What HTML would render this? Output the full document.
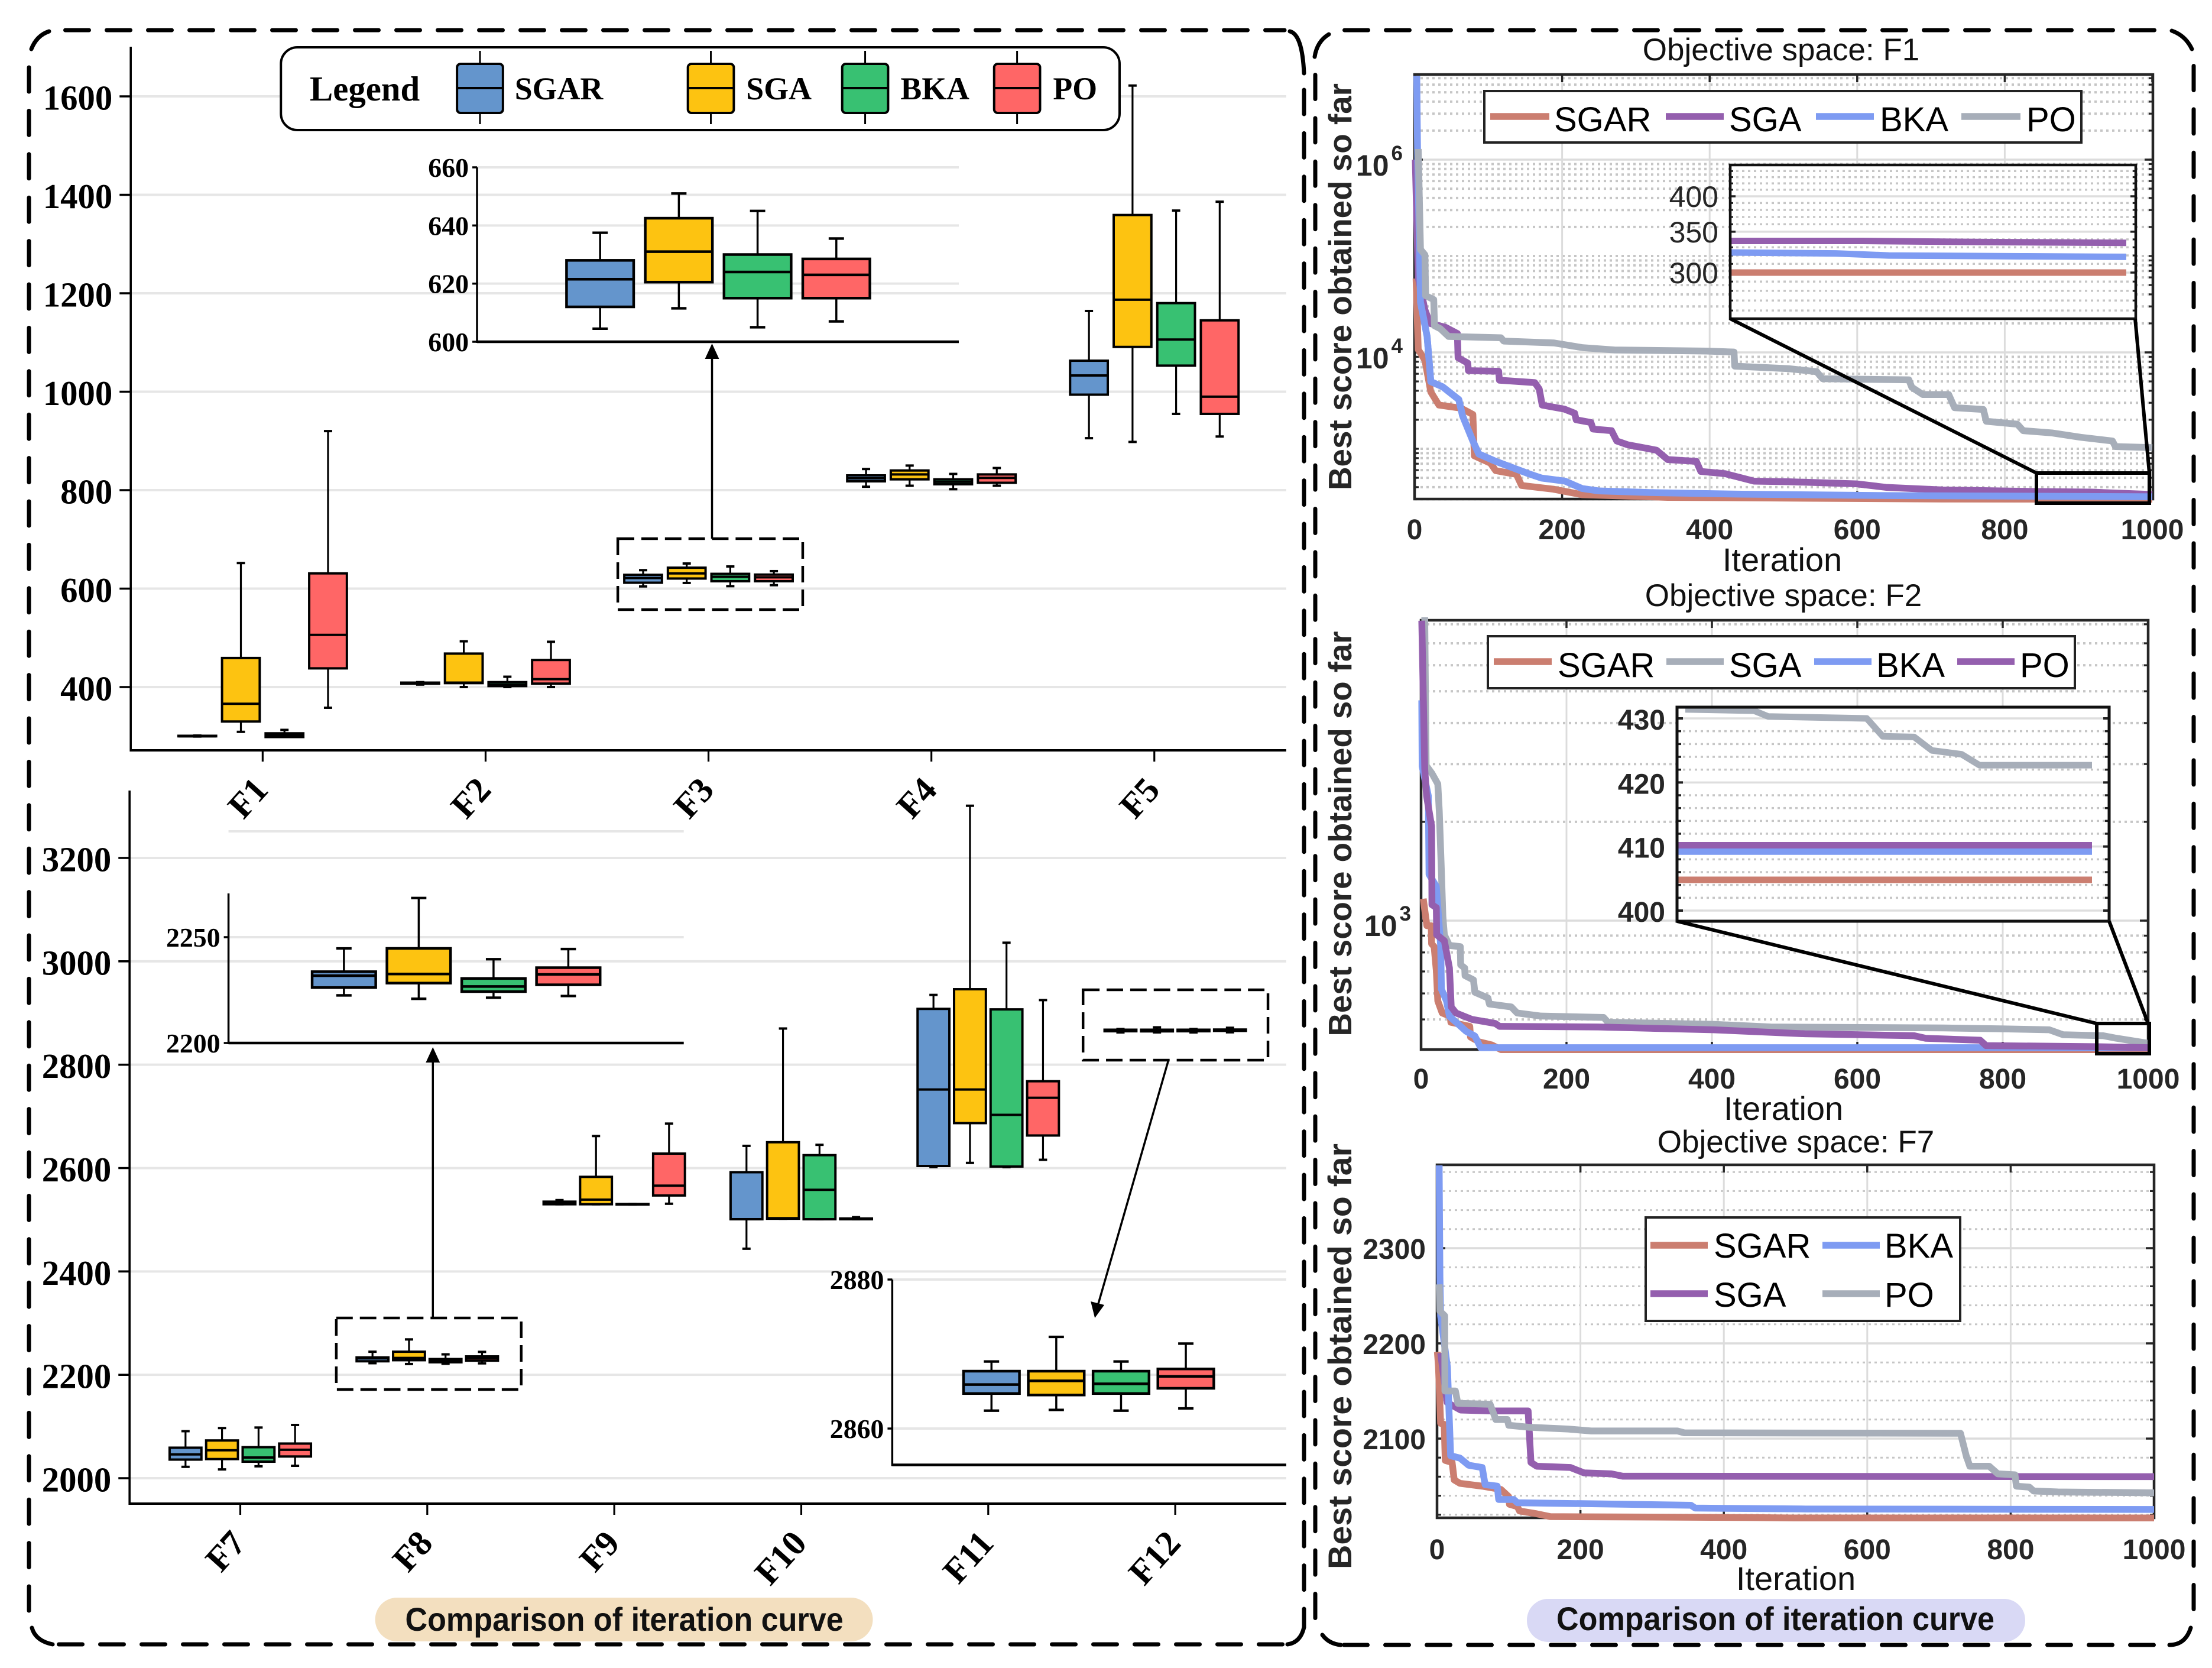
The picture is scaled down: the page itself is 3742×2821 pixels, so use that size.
<!DOCTYPE html>
<html lang="en">
<head>
<meta charset="utf-8">
<title>Comparison of iteration curve</title>
<style>
html,body{margin:0;padding:0;background:#fff;}
svg{display:block;}
.serif{font-family:"Liberation Serif",serif;font-weight:bold;fill:#000;}
.sans{font-family:"Liberation Sans",sans-serif;fill:#111;}
.dash{fill:none;stroke:#000;stroke-width:7;stroke-linecap:round;}
</style>
</head>
<body>
<svg id="root" xmlns="http://www.w3.org/2000/svg" width="3742" height="2821" viewBox="0 0 3742 2821">
  <defs>
    <clipPath id="clip-f1"><rect x="2385" y="124" width="1262" height="730"/></clipPath>
    <clipPath id="clip-f2"><rect x="2396" y="1042" width="1244" height="744"/></clipPath>
    <clipPath id="clip-f7"><rect x="2423" y="1968" width="1227" height="608"/></clipPath>
  </defs>
  <rect x="0" y="0" width="3742" height="2821" fill="#ffffff"/>

  <g transform="scale(0.9963 1)">
    <g id="top-box-chart"></g>
    <g id="bottom-box-chart"></g>

    <!-- box legend -->
    <g>
      <rect x="477" y="80" width="1424" height="140" rx="28" fill="#fff" stroke="#000" stroke-width="4"/>
      <text class="serif" x="526" y="170" font-size="59">Legend</text>
      <g>
        <line x1="815" x2="815" y1="86" y2="210" stroke="#000" stroke-width="3"/>
        <rect x="776" y="108" width="78" height="83" rx="6" fill="#6495CC" stroke="#000" stroke-width="4"/>
        <line x1="776" x2="854" y1="149" y2="149" stroke="#000" stroke-width="4"/>
        <text class="serif" x="874" y="168" font-size="54">SGAR</text>
      </g>
      <g>
        <line x1="1207" x2="1207" y1="86" y2="210" stroke="#000" stroke-width="3"/>
        <rect x="1168" y="108" width="78" height="83" rx="6" fill="#FDC311" stroke="#000" stroke-width="4"/>
        <line x1="1168" x2="1246" y1="149" y2="149" stroke="#000" stroke-width="4"/>
        <text class="serif" x="1267" y="168" font-size="54">SGA</text>
      </g>
      <g>
        <line x1="1469" x2="1469" y1="86" y2="210" stroke="#000" stroke-width="3"/>
        <rect x="1430" y="108" width="78" height="83" rx="6" fill="#38C172" stroke="#000" stroke-width="4"/>
        <line x1="1430" x2="1508" y1="149" y2="149" stroke="#000" stroke-width="4"/>
        <text class="serif" x="1529" y="168" font-size="54">BKA</text>
      </g>
      <g>
        <line x1="1727" x2="1727" y1="86" y2="210" stroke="#000" stroke-width="3"/>
        <rect x="1688" y="108" width="78" height="83" rx="6" fill="#FF6666" stroke="#000" stroke-width="4"/>
        <line x1="1688" x2="1766" y1="149" y2="149" stroke="#000" stroke-width="4"/>
        <text class="serif" x="1788" y="168" font-size="54">PO</text>
      </g>
    </g>

    <!-- annotations -->
    <rect x="1049" y="911" width="314" height="120" fill="none" stroke="#000" stroke-width="4.5" stroke-dasharray="28 12"/>
    <line x1="1209" y1="911" x2="1209" y2="600" stroke="#000" stroke-width="3.5"/>
    <polygon points="1209,581 1197,607 1221,607" fill="#000"/>
    <rect x="571" y="2229" width="314" height="121" fill="none" stroke="#000" stroke-width="4.5" stroke-dasharray="28 12"/>
    <line x1="735" y1="2227" x2="735" y2="1790" stroke="#000" stroke-width="3.5"/>
    <polygon points="735,1771 723,1797 747,1797" fill="#000"/>
    <rect x="1839" y="1674" width="314" height="119" fill="none" stroke="#000" stroke-width="4.5" stroke-dasharray="28 12"/>
    <line x1="1984" y1="1793" x2="1864" y2="2208" stroke="#000" stroke-width="3.5"/>
    <polygon points="1859,2229 1852,2201 1875,2207" fill="#000"/>

    <rect x="637" y="2702" width="845" height="74" rx="37" fill="#F3DFBF"/>
    <text class="sans" x="688" y="2758" font-size="56" font-weight="bold" fill="#000" textLength="744" lengthAdjust="spacingAndGlyphs">Comparison of iteration curve</text>
  </g>

  <g id="curve-f1"></g>
  <g id="curve-f2"></g>
  <g id="curve-f7"></g>

  <!-- dashed panel borders -->
  <g>
    <line class="dash" x1="110.5" y1="51" x2="2173" y2="51" stroke-dasharray="40 30"/>
    <line class="dash" x1="49" y1="114" x2="49" y2="2732" stroke-dasharray="41 32.4"/>
    <line class="dash" x1="2206" y1="152" x2="2206" y2="2752" stroke-dasharray="41 32.4"/>
    <line class="dash" x1="99.5" y1="2781" x2="2172" y2="2781" stroke-dasharray="40 30"/>
    <path class="dash" d="M53 83 Q62 60 83 53"/>
    <path class="dash" d="M2182 53 Q2203 58 2206 124"/>
    <path class="dash" d="M54 2753 Q60 2775 89 2781"/>
    <path class="dash" d="M2178 2781 Q2200 2778 2206 2752"/>
  </g>
  <g>
    <line class="dash" x1="2274.5" y1="51" x2="3650" y2="51" stroke-dasharray="40 30"/>
    <line class="dash" x1="2225" y1="126.5" x2="2225" y2="2745" stroke-dasharray="41 32.4"/>
    <line class="dash" x1="3711" y1="111.5" x2="3711" y2="2745" stroke-dasharray="41 32.4"/>
    <line class="dash" x1="2273.5" y1="2782" x2="3660" y2="2782" stroke-dasharray="40 30"/>
    <path class="dash" d="M2224 96 Q2228 70 2248 58"/>
    <path class="dash" d="M3674 52 Q3697 60 3708 83"/>
    <path class="dash" d="M2237 2765 Q2248 2780 2268 2782"/>
    <path class="dash" d="M3670 2782 Q3697 2782 3706 2753"/>
  </g>

  <!-- right titles -->
  <text class="sans" x="3013" y="102" font-size="53" text-anchor="middle">Objective space: F1</text>
  <text class="sans" x="3017" y="1025" font-size="53" text-anchor="middle">Objective space: F2</text>
  <text class="sans" x="3038" y="1949" font-size="53" text-anchor="middle">Objective space: F7</text>

  <text class="sans" font-weight="bold" font-size="54.5" text-anchor="middle" textLength="688" lengthAdjust="spacingAndGlyphs" transform="translate(2286 485) rotate(-90)" style="fill:#262626">Best score obtained so far</text>
  <text class="sans" font-weight="bold" font-size="54.5" text-anchor="middle" textLength="685" lengthAdjust="spacingAndGlyphs" transform="translate(2286 1410) rotate(-90)" style="fill:#262626">Best score obtained so far</text>
  <text class="sans" font-weight="bold" font-size="56" text-anchor="middle" textLength="720" lengthAdjust="spacingAndGlyphs" transform="translate(2286 2294) rotate(-90)" style="fill:#262626">Best score obtained so far</text>

  <text class="sans" x="3015" y="966" font-size="56" text-anchor="middle">Iteration</text>
  <text class="sans" x="3017" y="1894" font-size="56" text-anchor="middle">Iteration</text>
  <text class="sans" x="3038" y="2689" font-size="56" text-anchor="middle">Iteration</text>

  <rect x="2583" y="2704" width="843" height="73" rx="36" fill="#D9D9F5"/>
  <text class="sans" x="2633" y="2757" font-size="56" font-weight="bold" fill="#000" textLength="741" lengthAdjust="spacingAndGlyphs">Comparison of iteration curve</text>
</svg>

<script>
/* ---------- box chart data: rows = functions, columns = SGAR, SGA, BKA, PO ---------- */
const topCategories = ['F1','F2','F3','F4','F5'];
const bottomCategories = ['F7','F8','F9','F10','F11','F12'];
const methodNames = ['SGAR','SGA','BKA','PO'];
const topYTicks = [400,600,800,1000,1200,1400,1600];
const bottomYTicks = [2000,2200,2400,2600,2800,3000,3200];

const topLow = [[299.5,309,299,358],[405,400,400,400],[604.5,611.5,605,607],[807,809,802,809],[905.6,898,955,909]];
const topQ1 = [[300,330,298.5,438],[407,408,402,407],[612,620.5,615,615],[818,822,812,815],[994,1091,1053,955]];
const topMedian = [[300,366,303,506],[408,409,405,416],[621.5,631,624,623],[824,832,817,825],[1033,1187,1106,990]];
const topQ3 = [[301,459,306,631],[409,468,410,455],[628,642.5,630,628.5],[830,840,822,832],[1063,1359,1180,1145]];
const topHigh = [[301.5,652,313,920],[410,493,421,492],[637.5,651,645,635.5],[843,850,833,845],[1164,1622,1368,1386]];

const bottomLow = [[2022,2017,2023,2024],[2222.5,2220.9,2221.4,2222.2],[2530,2530,2529.5,2531],[2444,2502,2501,2501],[2602,2610,2602,2616],[2862.4,2862.5,2862.4,2862.7]];
const bottomQ1 = [[2036,2037,2032,2042],[2226.2,2228.3,2224.3,2227.5],[2530,2530,2529.5,2547],[2501,2502,2501,2501],[2604,2687,2603,2663],[2864.7,2864.5,2864.7,2865.4]];
const bottomMedian = [[2046,2054,2040,2055],[2231.8,2232.6,2226.7,2232.4],[2532,2539,2530,2566],[2501,2503,2558,2502],[2752,2752,2703,2736],[2865.9,2866.4,2866,2867]];
const bottomQ3 = [[2059,2073,2060,2067],[2233.7,2244.7,2230.5,2235.6],[2535,2583,2530.5,2628],[2592,2650,2625,2502.5],[2908,2946,2907,2768],[2867.7,2867.7,2867.7,2868]];
const bottomHigh = [[2091,2097,2098,2103],[2244.7,2268.5,2239.6,2244.4],[2538,2662,2530.5,2686],[2643,2870,2645,2505],[2935,3301,3036,2925],[2869,2872.3,2869,2871.4]];

const f3InsetTicks = [600,620,640,660];
const f8InsetTicks = [2200,2250];
const f12InsetTicks = [2860,2880];

/* ---------- convergence curves: iteration and best score ---------- */
const curveXTicks = [0,200,400,600,800,1000];

const f1SgarIter = [2,5,14,22,33,63,79,81,103,110,138,145,188,227,343,716,1000];
const f1SgarScore = [58500,10700,8300,3880,2840,2640,2270,845,708,593,543,416,381,334,313,301,300];
const f1SgaIter = [1,5,14,21,42,58,59,72,73,114,115,163,169,173,203,217,219,239,242,267,274,289,328,343,382,388,421,460,507,600,639,716,833,918,1000];
const f1SgaScore = [1000000,60000,27700,19980,18200,15700,8800,7750,6460,6370,5150,4860,4170,2840,2580,2340,2000,1875,1600,1540,1205,1100,966,773,740,582,552,462,455,432,398,374,361,355,336];
const f1BkaIter = [3,4,8,17,22,38,60,65,79,87,110,157,172,204,227,250,328,444,639,1000];
const f1BkaScore = [7400000,1316000,33200,14650,4970,4400,3240,2210,1205,883,740,543,497,462,387,365,350,338,327,318];
const f1PoIter = [5,8,14,15,26,27,35,46,117,121,189,228,271,396,433,434,507,545,553,670,674,689,724,732,771,775,817,825,864,903,946,950,1000];
const f1PoScore = [1290000,117000,103000,38800,35300,18900,17600,14650,14200,13090,12530,11200,10590,10330,10090,7210,6780,6310,5330,5190,4340,3650,3650,2670,2560,1930,1800,1540,1460,1315,1205,1055,1028];
const f1InsetSgarIter = [850,1000];
const f1InsetSgarScore = [300,300];
const f1InsetSgaIter = [850,900,950,1000];
const f1InsetSgaScore = [338,338,336.5,335.6];
const f1InsetBkaIter = [850,890,910,960,1000];
const f1InsetBkaScore = [323.6,322.5,320,319,318.3];
const f1InsetTicks = [300,350,400];

const f2SgarIter = [3,8,14,14.5,18,21,23,29,40,41,67,68,80,97,110,1000];
const f2SgarScore = [1166,965,965,850,833,703,569,523,511,490,476,442,427,418,404.5,404.5];
const f2SgaIter = [5,7,15,23,25,28,30,32,39,54,54.5,60,60.5,72,74,92,94,124,132,165,251,257,402,481,718,797,864,883,938,954,1000];
const f2SgaScore = [8400,2970,2810,2610,2155,1410,1030,905,840,833,733,717,680,660,605,581,557,546,523,512,507,490,483,474,471,468,465,449,446,439,423];
const f2BkaIter = [1,1.5,10,11,21,27,28,35,39,62,74,82,769,1000];
const f2BkaScore = [4690,2950,2400,1383,1272,833,618,569,511,460,445,410,410,409.5];
const f2PoIter = [1,5,7.6,14.5,15,21,21.5,32,39,41.5,48,70,102,108,244,402,528,678,694,769,777,923,1000];
const f2PoScore = [8200,2900,2400,1940,1118,1095,905,868,717,546,523,500,486,476,474,465,452,446,438,432,416,413,410];
const f2InsetSgarIter = [930,1000];
const f2InsetSgarScore = [404.8,404.8];
const f2InsetSgaIter = [931.4,943,945.4,962,964.7,970,973,978,981,1000];
const f2InsetSgaScore = [431.4,431.2,430.3,430,427.2,427.1,425,424.4,422.7,422.7];
const f2InsetBkaIter = [930,1000];
const f2InsetBkaScore = [409.2,409.2];
const f2InsetPoIter = [930,1000];
const f2InsetPoScore = [410.2,410.2];
const f2InsetTicks = [400,410,420,430];

const f7SgarIter = [0.5,2,5,10,11.5,21,24,32,63,89,100,101,112,115,139,158,442,498,1000];
const f7SgarScore = [2191,2176,2116,2115,2077,2075,2056.6,2053,2050,2046.6,2039,2031,2028.6,2024,2021,2018,2017,2016.6,2016.6];
const f7SgaIter = [5,14,21,33,76,127,131,139,186,205,243,259,1000];
const f7SgaScore = [2190,2138,2135,2130,2129,2129,2075,2071,2069.6,2064,2063,2060.5,2060];
const f7BkaIter = [3,4,5,14.5,19,32,44,63,67,84,86,107,112,354,360,514,1000];
const f7BkaScore = [2387,2270,2229,2175,2082,2079.5,2072,2069.6,2051.7,2050,2036,2036,2032.6,2030,2027,2026,2025.5];
const f7PoIter = [3,4,10.7,11,25.6,29,74,82,98,100,127,183,215,335,345,730,738,743,770,782,806,808,826,832,866,1000];
const f7PoScore = [2262,2234,2229,2150,2150,2137,2136,2120,2120,2114,2112,2110,2108,2108,2106,2105.6,2082,2071,2071,2063,2062,2050,2049,2045,2044,2043];
const f7YTicks = [2100,2200,2300];

/* ---------- helpers ---------- */
const NS = 'http://www.w3.org/2000/svg';
const boxColors = ['#6495CC','#FDC311','#38C172','#FF6666'];
const curveColor = {sgar:'#CB7E70', sga:'#945FAE', bka:'#7E9BF2', po:'#A7AEB9'};

function add(parent, tag, attrs, name) {
  const el = document.createElementNS(NS, tag);
  for (const k in attrs) el.setAttribute(k, attrs[k]);
  
  
  parent.appendChild(el);
  return el;
}
function line(parent, x1, y1, x2, y2, stroke, width, name, dash) {
  const attrs = {x1:x1, y1:y1, x2:x2, y2:y2, stroke:stroke, 'stroke-width':width};
  if (dash) attrs['stroke-dasharray'] = dash;
  return add(parent, 'line', attrs, name);
}
function label(parent, x, y, str, cls, size, anchor, name, extra) {
  const attrs = Object.assign({x:x, y:y, class:cls, 'font-size':size, 'text-anchor':anchor}, extra || {});
  const el = add(parent, 'text', attrs, name);
  el.textContent = str;
  return el;
}
function linear(d0, d1, p0, p1) { return v => p0 + (v - d0) * (p1 - p0) / (d1 - d0); }
function logScale(d0, d1, p0, p1) {
  const a = Math.log10(d0), b = Math.log10(d1);
  return v => p0 + (Math.log10(v) - a) * (p1 - p0) / (b - a);
}

/* ---------- box marks ---------- */
function drawBox(g, cx, w, cap, sy, low, q1, med, q3, high, color, prefix, sw, ww) {
  line(g, cx, sy(high), cx, sy(q3), '#000', ww, prefix + '-upper-whisker');
  line(g, cx, sy(q1), cx, sy(low), '#000', ww, prefix + '-lower-whisker');
  line(g, cx - cap / 2, sy(high), cx + cap / 2, sy(high), '#000', ww + 0.8, prefix + '-upper-cap');
  line(g, cx - cap / 2, sy(low), cx + cap / 2, sy(low), '#000', ww + 0.8, prefix + '-lower-cap');
  add(g, 'rect', {x: cx - w / 2, y: sy(q3), width: w, height: Math.max(0.5, sy(q1) - sy(q3)), fill: color, stroke: '#000', 'stroke-width': sw}, prefix + '-box');
  line(g, cx - w / 2, sy(med), cx + w / 2, sy(med), '#000', sw, prefix + '-median');
}
function drawBoxChart(g, cfg) {
  const sy = linear(cfg.d0, cfg.d1, cfg.p0, cfg.p1);
  cfg.yTicks.forEach(v => {
    line(g, cfg.left, sy(v), cfg.right, sy(v), '#E6E6E6', 4, 'y-gridline-' + v);
  });
  cfg.categories.forEach((c, i) => {
    const tx = cfg.tick0 + i * cfg.tickStep;
    for (let m = 0; m < methodNames.length; m++) {
      const cx = tx + (m - 1.5) * cfg.gap;
      const prefix = 'box-' + c.toLowerCase() + '-' + methodNames[m].toLowerCase();
      drawBox(g, cx, cfg.w, 14, sy, cfg.stats.low[i][m], cfg.stats.q1[i][m], cfg.stats.med[i][m], cfg.stats.q3[i][m], cfg.stats.high[i][m], boxColors[m], prefix, 4, 3.2);
    }
    line(g, tx, cfg.bottom, tx, cfg.bottom + 19, '#000', 3.2, 'x-tick-' + c);
    label(g, tx + 12, cfg.bottom + 69, c, 'serif', 60, 'end', 'x-tick-label-' + c, {transform: 'rotate(-48 ' + (tx + 12) + ' ' + (cfg.bottom + 69) + ')'});
  });
  cfg.yTicks.forEach(v => {
    line(g, cfg.left - 19, sy(v), cfg.left, sy(v), '#000', 3.6, 'y-tick-' + v);
    label(g, cfg.left - 31, sy(v) + 22.5, String(v), 'serif', 59, 'end', 'y-tick-label-' + v);
  });
  line(g, cfg.left, cfg.top, cfg.left, cfg.bottom + 2, '#000', 3.6, 'y-axis');
  line(g, cfg.left, cfg.bottom, cfg.right, cfg.bottom, '#000', 4, 'x-axis');
}
function drawBoxInset(g, cfg) {
  const sy = linear(cfg.d0, cfg.d1, cfg.p0, cfg.p1);
  cfg.ticks.forEach(v => {
    if (v !== cfg.d0 || cfg.gridAtBase) line(g, cfg.left, sy(v), cfg.right, sy(v), '#E6E6E6', 4, cfg.tag + '-gridline-' + v);
  });
  if (cfg.extraGrid) line(g, cfg.left, sy(cfg.extraGrid), cfg.right, sy(cfg.extraGrid), '#E6E6E6', 4, cfg.tag + '-gridline-top');
  for (let m = 0; m < methodNames.length; m++) {
    const cx = cfg.ctr + (m - 1.5) * cfg.gap;
    const prefix = cfg.tag + '-' + methodNames[m].toLowerCase();
    drawBox(g, cx, cfg.w, 26, sy, cfg.stats.low[cfg.row][m], cfg.stats.q1[cfg.row][m], cfg.stats.med[cfg.row][m], cfg.stats.q3[cfg.row][m], cfg.stats.high[cfg.row][m], boxColors[m], prefix, 4.5, 3.5);
  }
  cfg.ticks.forEach(v => {
    line(g, cfg.left - 8, sy(v), cfg.left, sy(v), '#000', 3.5, cfg.tag + '-tick-' + v);
    label(g, cfg.left - 14, sy(v) + 16, String(v), 'serif', 46, 'end', cfg.tag + '-tick-label-' + v);
  });
  line(g, cfg.left, cfg.top, cfg.left, cfg.bottom + 2, '#000', 3.5, cfg.tag + '-y-axis');
  line(g, cfg.left, cfg.bottom, cfg.right, cfg.bottom, '#000', 4.5, cfg.tag + '-x-axis');
}

const topStats = {low: topLow, q1: topQ1, med: topMedian, q3: topQ3, high: topHigh};
const bottomStats = {low: bottomLow, q1: bottomQ1, med: bottomMedian, q3: bottomQ3, high: bottomHigh};

const topG = document.getElementById('top-box-chart');
drawBoxChart(topG, {categories: topCategories, yTicks: topYTicks, stats: topStats, d0: 400, d1: 1600, p0: 1162, p1: 163,
  left: 222, right: 2184, top: 79, bottom: 1269, tick0: 446, tickStep: 378.5, gap: 74, w: 64});
drawBoxInset(topG, {tag: 'f3-inset', row: 2, ticks: f3InsetTicks, stats: topStats, d0: 600, d1: 660, p0: 578, p1: 283,
  left: 810, right: 1628, top: 283, bottom: 578, ctr: 1219.5, gap: 133.7, w: 114});

const botG = document.getElementById('bottom-box-chart');
drawBoxChart(botG, {categories: bottomCategories, yTicks: bottomYTicks, stats: bottomStats, d0: 2000, d1: 3200, p0: 2500, p1: 1451,
  left: 220, right: 2184, top: 1337, bottom: 2543, tick0: 408, tickStep: 317.5, gap: 62, w: 54});
drawBoxInset(botG, {tag: 'f8-inset', row: 1, ticks: f8InsetTicks, stats: bottomStats, d0: 2200, d1: 2250, p0: 1764, p1: 1585,
  left: 388, right: 1161, top: 1511, bottom: 1764, ctr: 774.5, gap: 127, w: 108, extraGrid: 2300});
drawBoxInset(botG, {tag: 'f12-inset', row: 5, ticks: f12InsetTicks, stats: bottomStats, d0: 2860, d1: 2880, p0: 2416, p1: 2164, gridAtBase: true,
  left: 1515, right: 2184, top: 2164, bottom: 2477.5, ctr: 1848.5, gap: 110, w: 95});

/* ---------- convergence charts ---------- */
function polyPath(xs, ys, sx, sy) {
  let d = '';
  for (let i = 0; i < xs.length; i++) d += (i ? 'L' : 'M') + sx(xs[i]).toFixed(1) + ' ' + sy(ys[i]).toFixed(1);
  return d;
}
function curve(g, xs, ys, sx, sy, color, name, clip, width) {
  const attrs = {d: polyPath(xs, ys, sx, sy), fill: 'none', stroke: color, 'stroke-width': width || 11.5, 'stroke-linejoin': 'round'};
  if (clip) attrs['clip-path'] = 'url(#' + clip + ')';
  return add(g, 'path', attrs, name);
}
function logMinors(minExp, maxExp, lo, hi) {
  const out = [];
  for (let e = minExp; e <= maxExp; e++) for (let m = 1; m <= 9; m++) {
    const v = m * Math.pow(10, e);
    if (v >= lo && v <= hi) out.push(v);
  }
  return out;
}
function stepMinors(lo, hi, step) {
  const out = [];
  for (let v = lo; v <= hi; v += step) out.push(v);
  return out;
}
function drawCurveFrame(g, cfg) {
  const sx = cfg.sx, sy = cfg.sy, tag = cfg.tag;
  cfg.minorY.forEach(v => {
    if (cfg.majorY.indexOf(v) < 0) line(g, cfg.left, sy(v), cfg.right, sy(v), '#C6C6C6', cfg.dotW, tag + '-minor-gridline', '4 6');
  });
  cfg.majorY.forEach(v => {
    line(g, cfg.left, sy(v), cfg.right, sy(v), '#DCDCDC', 3.5, tag + '-major-gridline');
  });
  curveXTicks.forEach(v => {
    if (v > 0 && v < 1000) line(g, sx(v), cfg.top, sx(v), cfg.bottom, '#DCDCDC', 3, tag + '-x-gridline');
  });
  const c = '#262626';
  curveXTicks.forEach(v => {
    line(g, sx(v), cfg.top, sx(v), cfg.top + 13, c, 3.5, tag + '-x-tick-top');
    line(g, sx(v), cfg.bottom, sx(v), cfg.bottom - 13, c, 3.5, tag + '-x-tick-bottom');
    label(g, sx(v), cfg.xLabelY, String(v), 'sans', 48, 'middle', tag + '-x-tick-label-' + v, {'font-weight': 'bold', style: 'fill:#262626'});
  });
  cfg.minorY.forEach(v => {
    line(g, cfg.left, sy(v), cfg.left + 7, sy(v), c, 3.2, tag + '-y-minor-tick');
    line(g, cfg.right, sy(v), cfg.right - 7, sy(v), c, 3.2, tag + '-y-minor-tick');
  });
  cfg.majorY.forEach(v => {
    line(g, cfg.left, sy(v), cfg.left + 14, sy(v), c, 3.5, tag + '-y-tick');
    line(g, cfg.right, sy(v), cfg.right - 14, sy(v), c, 3.5, tag + '-y-tick');
  });
  add(g, 'rect', {x: cfg.left, y: cfg.top, width: cfg.right - cfg.left, height: cfg.bottom - cfg.top, fill: 'none', stroke: c, 'stroke-width': 4.5}, tag + '-frame');
}
function logTickLabel(g, x, y, exp, name) {
  const t = add(g, 'text', {x: x, y: y, class: 'sans', 'font-size': 50, 'font-weight': 'bold', 'text-anchor': 'end', style: 'fill:#262626'}, name);
  const a = document.createElementNS(NS, 'tspan');
  a.textContent = '10';
  t.appendChild(a);
  const b = document.createElementNS(NS, 'tspan');
  b.setAttribute('dy', '-26');
  b.setAttribute('font-size', '35');
  b.setAttribute('dx', '4');
  b.textContent = String(exp);
  t.appendChild(b);
}
function legendEntry(g, x1, x2, y, lx, ly, color, str, tag) {
  line(g, x1, y, x2, y, color, 11.5, tag + '-legend-line-' + str.toLowerCase());
  label(g, lx, ly, str, 'sans', 58, 'start', tag + '-legend-label-' + str.toLowerCase(), {style: 'fill:#000'});
}

/* F1 */
(function () {
  const g = document.getElementById('curve-f1');
  const cfg = {tag: 'f1', left: 2393, right: 3642, top: 126, bottom: 844, xLabelY: 912, dotW: 4,
    sx: linear(0, 1000, 2393, 3641), sy: logScale(1e4, 1e6, 596, 270),
    majorY: [1e4, 1e6], minorY: logMinors(2, 6, 300, 7e6)};
  drawCurveFrame(g, cfg);
  curve(g, f1SgarIter, f1SgarScore, cfg.sx, cfg.sy, curveColor.sgar, 'f1-series-sgar', 'clip-f1');
  curve(g, f1SgaIter, f1SgaScore, cfg.sx, cfg.sy, curveColor.sga, 'f1-series-sga', 'clip-f1');
  curve(g, f1BkaIter, f1BkaScore, cfg.sx, cfg.sy, curveColor.bka, 'f1-series-bka', 'clip-f1');
  curve(g, f1PoIter, f1PoScore, cfg.sx, cfg.sy, curveColor.po, 'f1-series-po', 'clip-f1');
  curve(g, f1BkaIter.slice(2, 12), f1BkaScore.slice(2, 12), cfg.sx, cfg.sy, curveColor.bka, 'f1-series-bka-front', 'clip-f1');
  logTickLabel(g, 2373, 297, 6, 'f1-y-tick-label-1e6');
  logTickLabel(g, 2373, 623, 4, 'f1-y-tick-label-1e4');

  add(g, 'rect', {x: 2511, y: 154, width: 1010, height: 87, fill: '#fff', stroke: '#222', 'stroke-width': 4}, 'f1-legend-frame');
  legendEntry(g, 2521, 2621, 197, 2629, 222, curveColor.sgar, 'SGAR', 'f1');
  legendEntry(g, 2818, 2916, 197, 2925, 222, curveColor.sga, 'SGA', 'f1');
  legendEntry(g, 3072, 3170, 197, 3180, 222, curveColor.bka, 'BKA', 'f1');
  legendEntry(g, 3318, 3418, 197, 3428, 222, curveColor.po, 'PO', 'f1');

  /* inset */
  const ix = linear(850, 1000, 2927, 3597), iy = logScale(400, 300, 332, 461);
  add(g, 'rect', {x: 2927, y: 279, width: 686, height: 260, fill: '#fff'}, 'f1-inset-background');
  stepMinors(260, 440, 10).forEach(v => {
    if (f1InsetTicks.indexOf(v) < 0) {
      line(g, 2927, iy(v), 3613, iy(v), '#C6C6C6', 3.5, 'f1-inset-minor-gridline', '4 6');
      line(g, 3613, iy(v), 3608, iy(v), '#222', 3, 'f1-inset-minor-tick');
      line(g, 2927, iy(v), 2932, iy(v), '#222', 3, 'f1-inset-minor-tick');
    }
  });
  f1InsetTicks.forEach(v => {
    line(g, 2927, iy(v), 3613, iy(v), '#DEDEDE', 3.5, 'f1-inset-major-gridline');
    line(g, 2927, iy(v), 2936, iy(v), '#222', 3.5, 'f1-inset-tick');
    line(g, 3613, iy(v), 3604, iy(v), '#222', 3.5, 'f1-inset-tick');
    label(g, 2907, iy(v) + 18, String(v), 'sans', 50, 'end', 'f1-inset-tick-label-' + v, {style: 'fill:#262626'});
  });
  curve(g, f1InsetSgarIter, f1InsetSgarScore, ix, iy, curveColor.sgar, 'f1-inset-series-sgar', null, 11);
  curve(g, f1InsetSgaIter, f1InsetSgaScore, ix, iy, curveColor.sga, 'f1-inset-series-sga', null, 11);
  curve(g, f1InsetBkaIter, f1InsetBkaScore, ix, iy, curveColor.bka, 'f1-inset-series-bka', null, 11);
  add(g, 'rect', {x: 2927, y: 279, width: 686, height: 260, fill: 'none', stroke: '#111', 'stroke-width': 4.5}, 'f1-inset-frame');
  add(g, 'rect', {x: 3445, y: 800, width: 191, height: 51, fill: 'none', stroke: '#000', 'stroke-width': 6}, 'f1-zoom-region');
  line(g, 2927, 539, 3445, 800, '#000', 6, 'f1-zoom-connector-left');
  line(g, 3612, 539, 3636, 800, '#000', 6, 'f1-zoom-connector-right');
})();

/* F2 */
(function () {
  const g = document.getElementById('curve-f2');
  const cfg = {tag: 'f2', left: 2404, right: 3634, top: 1049, bottom: 1775, xLabelY: 1841, dotW: 4,
    sx: linear(0, 1000, 2404, 3634), sy: logScale(1000, 2000, 1557, 1557 - 555 * Math.log10(2)),
    majorY: [1000], minorY: logMinors(2, 3, 500, 8000)};
  drawCurveFrame(g, cfg);
  curve(g, f2SgarIter, f2SgarScore, cfg.sx, cfg.sy, curveColor.sgar, 'f2-series-sgar', 'clip-f2');
  curve(g, f2SgaIter, f2SgaScore, cfg.sx, cfg.sy, curveColor.po, 'f2-series-sga', 'clip-f2');
  curve(g, f2BkaIter, f2BkaScore, cfg.sx, cfg.sy, curveColor.bka, 'f2-series-bka', 'clip-f2');
  curve(g, f2PoIter, f2PoScore, cfg.sx, cfg.sy, curveColor.sga, 'f2-series-po', 'clip-f2');
  logTickLabel(g, 2387, 1583, 3, 'f2-y-tick-label-1e3');

  add(g, 'rect', {x: 2517, y: 1076, width: 993, height: 88, fill: '#fff', stroke: '#222', 'stroke-width': 4}, 'f2-legend-frame');
  legendEntry(g, 2527, 2625, 1119, 2635, 1145, curveColor.sgar, 'SGAR', 'f2');
  legendEntry(g, 2819, 2916, 1119, 2925, 1145, curveColor.po, 'SGA', 'f2');
  legendEntry(g, 3069, 3166, 1119, 3174, 1145, curveColor.bka, 'BKA', 'f2');
  legendEntry(g, 3311, 3408, 1119, 3417, 1145, curveColor.sga, 'PO', 'f2');

  /* inset */
  const ix = linear(930, 1000, 2837, 3539), iy = linear(400, 430, 1540, 1215);
  add(g, 'rect', {x: 2837, y: 1196, width: 731, height: 362, fill: '#fff'}, 'f2-inset-background');
  stepMinors(400, 430, 2).forEach(v => {
    if (f2InsetTicks.indexOf(v) < 0) {
      line(g, 2837, iy(v), 3568, iy(v), '#C6C6C6', 3.5, 'f2-inset-minor-gridline', '4 6');
      line(g, 2837, iy(v), 2844, iy(v), '#222', 3.5, 'f2-inset-minor-tick');
      line(g, 3568, iy(v), 3561, iy(v), '#222', 3.5, 'f2-inset-minor-tick');
    }
  });
  f2InsetTicks.forEach(v => {
    line(g, 2837, iy(v), 3568, iy(v), '#DEDEDE', 3.5, 'f2-inset-major-gridline');
    line(g, 2837, iy(v), 2847, iy(v), '#222', 4, 'f2-inset-tick');
    line(g, 3568, iy(v), 3558, iy(v), '#222', 4, 'f2-inset-tick');
    label(g, 2817, iy(v) + 19, String(v), 'sans', 48, 'end', 'f2-inset-tick-label-' + v, {'font-weight': 'bold', style: 'fill:#262626'});
  });
  curve(g, f2InsetSgarIter, f2InsetSgarScore, ix, iy, curveColor.sgar, 'f2-inset-series-sgar', null, 11);
  curve(g, f2InsetBkaIter, f2InsetBkaScore, ix, iy, curveColor.bka, 'f2-inset-series-bka', null, 11);
  curve(g, f2InsetPoIter, f2InsetPoScore, ix, iy, curveColor.sga, 'f2-inset-series-po', null, 11);
  curve(g, f2InsetSgaIter, f2InsetSgaScore, ix, iy, curveColor.po, 'f2-inset-series-sga', null, 11);
  add(g, 'rect', {x: 2837, y: 1196, width: 731, height: 362, fill: 'none', stroke: '#111', 'stroke-width': 5}, 'f2-inset-frame');
  add(g, 'rect', {x: 3547, y: 1731, width: 89, height: 51, fill: 'none', stroke: '#000', 'stroke-width': 6}, 'f2-zoom-region');
  line(g, 2837, 1558, 3547, 1731, '#000', 6, 'f2-zoom-connector-left');
  line(g, 3568, 1558, 3634, 1731, '#000', 6, 'f2-zoom-connector-right');
})();

/* F7 */
(function () {
  const g = document.getElementById('curve-f7');
  const cfg = {tag: 'f7', left: 2431, right: 3644, top: 1970, bottom: 2567, xLabelY: 2637, dotW: 3,
    sx: linear(0, 1000, 2431, 3644), sy: linear(2100, 2300, 2433, 2111),
    majorY: f7YTicks, minorY: stepMinors(2020, 2380, 20)};
  drawCurveFrame(g, cfg);
  curve(g, f7SgarIter, f7SgarScore, cfg.sx, cfg.sy, curveColor.sgar, 'f7-series-sgar', 'clip-f7');
  curve(g, f7SgaIter, f7SgaScore, cfg.sx, cfg.sy, curveColor.sga, 'f7-series-sga', 'clip-f7');
  curve(g, f7BkaIter, f7BkaScore, cfg.sx, cfg.sy, curveColor.bka, 'f7-series-bka', 'clip-f7');
  curve(g, f7PoIter, f7PoScore, cfg.sx, cfg.sy, curveColor.po, 'f7-series-po', 'clip-f7');
  f7YTicks.forEach(v => {
    label(g, 2412, cfg.sy(v) + 18, String(v), 'sans', 48, 'end', 'f7-y-tick-label-' + v, {'font-weight': 'bold', style: 'fill:#262626'});
  });
  add(g, 'rect', {x: 2784, y: 2059, width: 532, height: 175, fill: '#fff', stroke: '#222', 'stroke-width': 4}, 'f7-legend-frame');
  legendEntry(g, 2792, 2889, 2106, 2899, 2127, curveColor.sgar, 'SGAR', 'f7');
  legendEntry(g, 3083, 3180, 2106, 3188, 2127, curveColor.bka, 'BKA', 'f7');
  legendEntry(g, 2792, 2889, 2188, 2899, 2210, curveColor.sga, 'SGA', 'f7');
  legendEntry(g, 3083, 3180, 2188, 3188, 2210, curveColor.po, 'PO', 'f7');
})();
</script>
</body>
</html>
